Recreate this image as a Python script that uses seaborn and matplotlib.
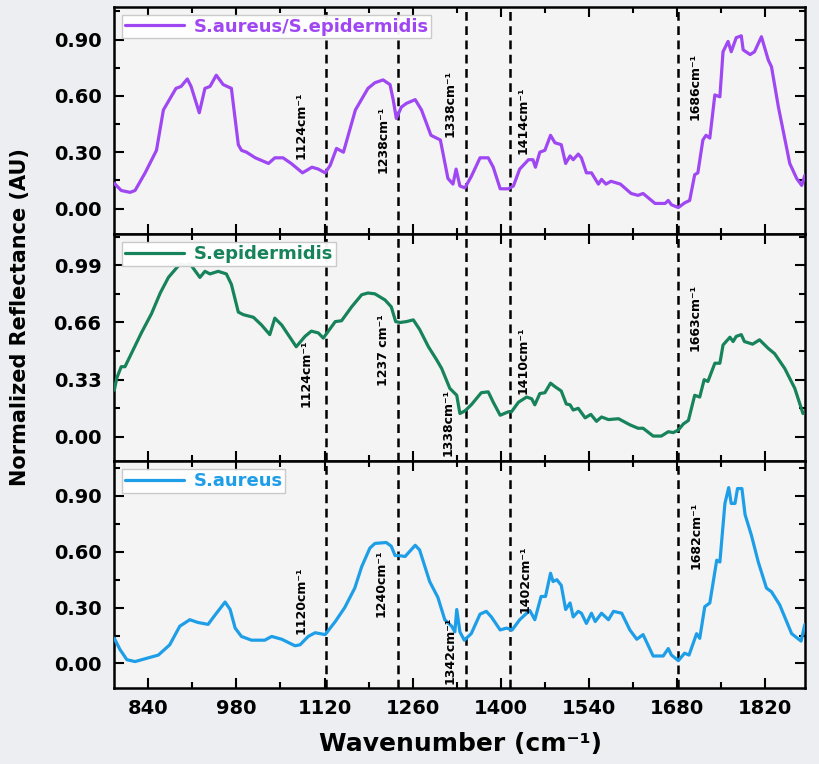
import matplotlib
matplotlib.use("Agg")
import matplotlib.pyplot as plt
import seaborn as sns
import pandas as pd
from matplotlib.ticker import MultipleLocator

# ---------------- data ----------------
mix_wn = [786, 797, 811, 819, 835, 853, 864, 884, 892, 902, 908, 921, 930, 938, 948, 959, 972, 983, 988, 996,
          1010, 1031, 1041, 1054, 1067, 1085, 1100, 1110, 1121, 1129, 1139, 1150, 1169, 1189, 1200, 1213, 1224,
          1229, 1234, 1242, 1250, 1264, 1274, 1289, 1304, 1316, 1324, 1329, 1335, 1343, 1353, 1367, 1380, 1388,
          1399, 1412, 1420, 1430, 1444, 1451, 1455, 1462, 1470, 1479, 1486, 1496, 1503, 1510, 1515, 1523, 1528,
          1536, 1544, 1555, 1560, 1567, 1575, 1590, 1607, 1618, 1626, 1645, 1661, 1666, 1671, 1682, 1692, 1700,
          1708, 1713, 1721, 1726, 1732, 1740, 1748, 1753, 1761, 1766, 1774, 1782, 1785, 1796, 1803, 1814, 1825,
          1830, 1841, 1859, 1870, 1878, 1883]
mix_val = [0.134, 0.096, 0.086, 0.096, 0.19, 0.31, 0.525, 0.64, 0.65, 0.69, 0.65, 0.51, 0.64, 0.65, 0.71, 0.66,
           0.64, 0.34, 0.31, 0.30, 0.27, 0.24, 0.27, 0.27, 0.24, 0.19, 0.22, 0.21, 0.19, 0.23, 0.32, 0.30, 0.525,
           0.64, 0.67, 0.685, 0.66, 0.58, 0.48, 0.54, 0.56, 0.58, 0.525, 0.39, 0.365, 0.16, 0.13, 0.21, 0.12, 0.11,
           0.17, 0.27, 0.27, 0.22, 0.105, 0.105, 0.12, 0.21, 0.26, 0.26, 0.22, 0.30, 0.31, 0.39, 0.35, 0.34, 0.24,
           0.28, 0.26, 0.29, 0.27, 0.19, 0.19, 0.13, 0.155, 0.13, 0.145, 0.13, 0.08, 0.07, 0.08, 0.027, 0.027,
           0.043, 0.02, 0.005, 0.03, 0.043, 0.18, 0.19, 0.365, 0.39, 0.375, 0.605, 0.595, 0.835, 0.89, 0.835, 0.91,
           0.92, 0.845, 0.82, 0.835, 0.915, 0.79, 0.755, 0.54, 0.24, 0.16, 0.123, 0.177]

epi_wn = [786, 790, 797, 803, 829, 845, 859, 872, 885, 890, 901, 906, 922, 930, 938, 951, 964, 972, 983, 991,
          1007, 1020, 1033, 1041, 1052, 1075, 1089, 1099, 1110, 1118, 1126, 1137, 1147, 1163, 1179, 1189, 1200,
          1216, 1226, 1233, 1240, 1250, 1261, 1271, 1285, 1298, 1306, 1319, 1330, 1335, 1343, 1353, 1369, 1380,
          1388, 1399, 1412, 1417, 1428, 1441, 1449, 1454, 1462, 1470, 1479, 1486, 1496, 1504, 1510, 1515, 1523,
          1534, 1543, 1552, 1560, 1571, 1587, 1605, 1618, 1626, 1642, 1655, 1666, 1674, 1682, 1690, 1698, 1708,
          1716, 1723, 1729, 1740, 1748, 1753, 1764, 1769, 1774, 1782, 1787, 1800, 1811, 1825, 1835, 1851, 1867,
          1880]
epi_val = [0.27, 0.34, 0.405, 0.405, 0.60, 0.71, 0.83, 0.92, 0.975, 0.995, 0.99, 1.0, 0.92, 0.955, 0.94, 0.955,
           0.94, 0.88, 0.72, 0.705, 0.69, 0.645, 0.59, 0.685, 0.645, 0.52, 0.58, 0.61, 0.60, 0.57, 0.61, 0.665,
           0.67, 0.75, 0.82, 0.83, 0.825, 0.79, 0.75, 0.665, 0.66, 0.665, 0.675, 0.62, 0.52, 0.445, 0.395, 0.28,
           0.24, 0.135, 0.15, 0.185, 0.255, 0.26, 0.20, 0.125, 0.145, 0.145, 0.20, 0.23, 0.22, 0.185, 0.25, 0.255,
           0.31, 0.29, 0.265, 0.19, 0.185, 0.155, 0.165, 0.11, 0.13, 0.09, 0.115, 0.10, 0.105, 0.07, 0.05, 0.05,
           0.005, 0.005, 0.03, 0.025, 0.04, 0.075, 0.095, 0.24, 0.23, 0.33, 0.32, 0.425, 0.425, 0.53, 0.575, 0.55,
           0.58, 0.59, 0.55, 0.535, 0.56, 0.51, 0.48, 0.395, 0.28, 0.135]

aur_wn = [786, 795, 806, 819, 840, 856, 874, 890, 906, 919, 935, 946, 962, 970, 978, 988, 1004, 1025, 1036, 1052,
          1073, 1081, 1094, 1105, 1121, 1137, 1152, 1168, 1179, 1192, 1200, 1218, 1226, 1232, 1237, 1248, 1264,
          1271, 1287, 1300, 1311, 1322, 1327, 1330, 1335, 1342, 1353, 1367, 1377, 1385, 1399, 1409, 1418, 1430,
          1446, 1454, 1464, 1471, 1479, 1483, 1489, 1496, 1503, 1510, 1515, 1523, 1528, 1536, 1544, 1550, 1560,
          1571, 1579, 1592, 1605, 1616, 1626, 1642, 1658, 1666, 1671, 1682, 1692, 1699, 1711, 1716, 1724, 1732,
          1743, 1748, 1756, 1762, 1766, 1772, 1776, 1783, 1788, 1798, 1809, 1822, 1830, 1843, 1862, 1877, 1883]
aur_val = [0.135, 0.075, 0.02, 0.01, 0.03, 0.045, 0.10, 0.20, 0.235, 0.22, 0.21, 0.26, 0.33, 0.29, 0.19, 0.145,
           0.125, 0.125, 0.145, 0.13, 0.095, 0.10, 0.145, 0.165, 0.155, 0.225, 0.30, 0.405, 0.52, 0.62, 0.645,
           0.65, 0.63, 0.58, 0.58, 0.575, 0.635, 0.61, 0.44, 0.355, 0.235, 0.20, 0.17, 0.29, 0.17, 0.125, 0.16,
           0.265, 0.28, 0.25, 0.18, 0.19, 0.18, 0.235, 0.285, 0.235, 0.36, 0.36, 0.485, 0.44, 0.45, 0.42, 0.29,
           0.325, 0.25, 0.28, 0.27, 0.215, 0.27, 0.225, 0.27, 0.235, 0.28, 0.27, 0.18, 0.13, 0.155, 0.04, 0.04,
           0.08, 0.045, 0.015, 0.055, 0.045, 0.16, 0.135, 0.305, 0.325, 0.555, 0.545, 0.86, 0.945, 0.86, 0.86,
           0.94, 0.94, 0.80, 0.69, 0.545, 0.405, 0.385, 0.315, 0.16, 0.12, 0.21]

series_names = ["S.aureus/S.epidermidis", "S.epidermidis", "S.aureus"]
series_colors = ["#9f47f2", "#17835a", "#1f9ee8"]

x_ticks = [840, 980, 1120, 1260, 1400, 1540, 1680, 1820]
mix_yticks = [0.00, 0.30, 0.60, 0.90]
epi_yticks = [0.00, 0.33, 0.66, 0.99]
aur_yticks = [0.00, 0.30, 0.60, 0.90]

band_lines = [1122, 1237, 1345, 1414, 1681]

mix_bands = ["1124cm⁻¹", "1238cm⁻¹", "1338cm⁻¹", "1414cm⁻¹", "1686cm⁻¹"]
epi_bands = ["1124cm⁻¹", "1237 cm⁻¹", "1338cm⁻¹", "1410cm⁻¹", "1663cm⁻¹"]
aur_bands = ["1120cm⁻¹", "1240cm⁻¹", "1342cm⁻¹", "1402cm⁻¹", "1682cm⁻¹"]

# ---------------- layout ----------------
mix_pos = [(1083, 0.445), (1213, 0.37), (1320, 0.56), (1436, 0.47), (1709, 0.65)]
epi_pos = [(1091, 0.365), (1213, 0.50), (1316, 0.085), (1436, 0.44), (1709, 0.69)]
aur_pos = [(1083, 0.34), (1210, 0.43), (1320, 0.07), (1438, 0.455), (1710, 0.69)]

sns.set_theme(style="ticks")
plt.rcParams["font.family"] = ["DejaVu Sans"]
plt.rcParams["text.color"] = "black"

fig, axes = plt.subplots(3, 1, figsize=(8.2, 7.64), dpi=100, sharex=True)
fig.patch.set_facecolor("#eceef1")
fig.subplots_adjust(left=0.139, right=0.982, top=0.991, bottom=0.099, hspace=0)

panels = [
    (mix_wn, mix_val, mix_yticks, (-0.136, 1.074), 0.15, mix_bands, mix_pos),
    (epi_wn, epi_val, epi_yticks, (-0.14, 1.17), 0.165, epi_bands, epi_pos),
    (aur_wn, aur_val, aur_yticks, (-0.134, 1.087), 0.15, aur_bands, aur_pos),
]

for i, (ax, (wn, val, yt, ylim, ymin, bands, pos)) in enumerate(zip(axes, panels)):
    df = pd.DataFrame({"wn": wn, "val": val})
    ax.set_facecolor("#f4f4f5")
    for v in band_lines:
        ax.axvline(v, color="black", lw=1.8, ls=(0, (3.5, 2.2)), zorder=1)
    sns.lineplot(data=df, x="wn", y="val", ax=ax, color=series_colors[i], lw=2.3,
                 estimator=None, sort=False, label=series_names[i], zorder=3)
    ax.set_xlim(785.5, 1883.6)
    ax.set_ylim(*ylim)
    ax.set_yticks(yt)
    ax.set_yticklabels([f"{t:.2f}" for t in yt], fontsize=14, fontweight="bold", color="black")
    ax.yaxis.set_minor_locator(MultipleLocator(ymin))
    ax.xaxis.set_major_locator(MultipleLocator(140))
    ax.xaxis.set_minor_locator(MultipleLocator(70))
    ax.tick_params(which="both", direction="in", top=True, right=True, width=1.5, colors="black")
    ax.tick_params(which="major", length=7)
    ax.tick_params(which="minor", length=4)
    ax.tick_params(axis="y", pad=9)
    ax.tick_params(axis="x", pad=8)
    for s in ax.spines.values():
        s.set_linewidth(1.8)
        s.set_color("black")
    ax.set_xlabel("")
    ax.set_ylabel("")
    for txt, (px, py) in zip(bands, pos):
        ax.text(px, py, txt, rotation=90, ha="center", va="center", fontsize=9,
                fontweight="bold", color="black", zorder=4)
    leg = ax.legend(loc="upper left", handlelength=3.3, handletextpad=0.5,
                    borderpad=0.15, borderaxespad=0.45, fancybox=False, framealpha=0.95,
                    edgecolor="#c8c8c8", facecolor="white", prop={"weight": "bold", "size": 13})
    for t, l in zip(leg.get_texts(), leg.get_lines()):
        t.set_color(l.get_color())
        l.set_linewidth(2.3)

axes[-1].set_xticks(x_ticks)
axes[-1].set_xticklabels([str(t) for t in x_ticks], fontsize=14, fontweight="bold", color="black")

fig.text(0.562, 0.026, "Wavenumber (cm⁻¹)", ha="center", va="center", fontsize=18,
         fontweight="bold", color="black")
fig.text(0.024, 0.585, "Normalized Reflectance (AU)", ha="center", va="center", rotation=90,
         fontsize=15, fontweight="bold", color="black")

fig.savefig("out.png", dpi=100, facecolor=fig.get_facecolor())
